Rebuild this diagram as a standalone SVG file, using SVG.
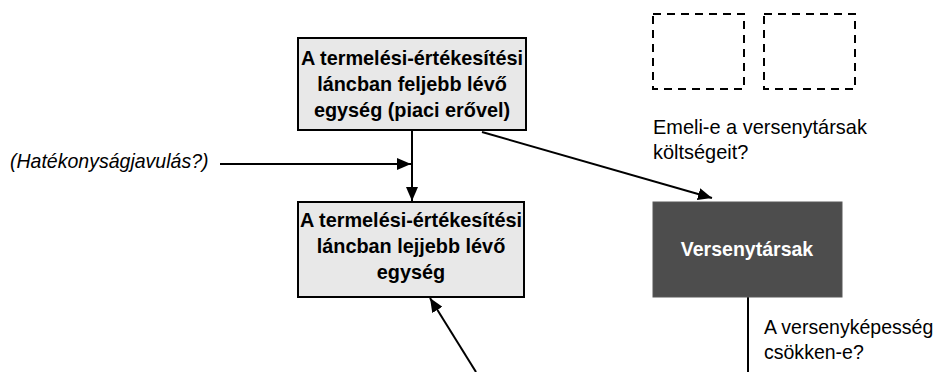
<svg xmlns="http://www.w3.org/2000/svg" width="938" height="372" viewBox="0 0 938 372">
<style>
.box{fill:#e8e8e8;stroke:#000;stroke-width:2}
.dark{fill:#4d4d4d;stroke:#595959;stroke-width:1}
.dash{fill:none;stroke:#000;stroke-width:2;stroke-dasharray:8 6}
.b{font-family:"Liberation Sans",Arial,sans-serif;font-weight:bold;font-size:21px;text-anchor:middle;fill:#000}
.w{fill:#fff}
.t{font-family:"Liberation Sans",Arial,sans-serif;font-size:21px;fill:#000}
.i{font-style:italic}
.c{stroke:#000;stroke-width:2;fill:none}
</style>
<defs>
<marker id="ah" viewBox="0 0 14 12" refX="14" refY="6" markerWidth="14" markerHeight="12" markerUnits="userSpaceOnUse" orient="auto">
<path d="M0,0 L14,6 L0,12 Z" fill="#000"/>
</marker>
</defs>
<rect width="938" height="372" fill="#fff"/>
<g id="placeholders">
<rect class="dash" x="653" y="14" width="91" height="75"/>
<rect class="dash" x="764" y="14" width="91" height="75"/>
</g>
<g id="connectors">
<line class="c" x1="412" y1="131" x2="412" y2="201" marker-end="url(#ah)"/>
<line class="c" x1="220" y1="164" x2="411" y2="164" marker-end="url(#ah)"/>
<line class="c" x1="482" y1="132" x2="712" y2="198" marker-end="url(#ah)"/>
<line class="c" x1="476" y1="372" x2="430" y2="298" marker-end="url(#ah)"/>
<line class="c" x1="748" y1="297" x2="748" y2="372"/>
</g>
<g id="upstream">
<rect class="box" x="298" y="38" width="228" height="92"/>
<g transform="translate(412 0) scale(0.945 1)">
<text class="b" x="0" y="65">A termelési-értékesítési</text>
<text class="b" x="0" y="91">láncban feljebb lévő</text>
<text class="b" x="0" y="117">egység (piaci erővel)</text>
</g>
</g>
<g id="downstream">
<rect class="box" x="298" y="202" width="226" height="95"/>
<g transform="translate(411 0) scale(0.945 1)">
<text class="b" x="0" y="227">A termelési-értékesítési</text>
<text class="b" x="0" y="253">láncban lejjebb lévő</text>
<text class="b" x="0" y="279">egység</text>
</g>
</g>
<g id="competitors">
<rect class="dark" x="653" y="202" width="189" height="95"/>
<g transform="translate(747 0) scale(0.93 1)">
<text class="b w" x="0" y="256">Versenytársak</text>
</g>
</g>
<g id="labels">
<g transform="translate(10 0) scale(0.93 1)">
<text class="t i" x="0" y="168">(Hatékonyságjavulás?)</text>
</g>
<g transform="translate(653 0) scale(0.95 1)">
<text class="t" x="0" y="134">Emeli-e a versenytársak</text>
<text class="t" x="0" y="159">költségeit?</text>
</g>
<g transform="translate(764 0) scale(0.93 1)">
<text class="t" x="0" y="334">A versenyképesség</text>
<text class="t" x="0" y="359">csökken-e?</text>
</g>
</g>
</svg>
